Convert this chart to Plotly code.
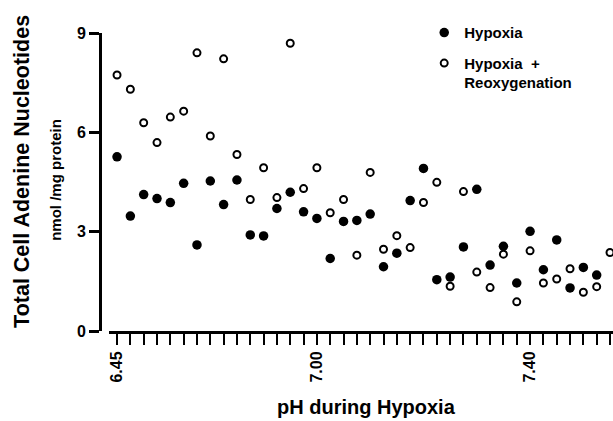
import plotly.graph_objects as go

# pH values (positions along the x axis, one per tick)
ph = [6.625, 6.650, 6.675, 6.700, 6.725, 6.750, 6.775, 6.800, 6.825, 6.850,
      6.875, 6.900, 6.925, 6.950, 6.975, 7.000, 7.025, 7.050, 7.075, 7.100,
      7.125, 7.150, 7.175, 7.200, 7.225, 7.250, 7.275, 7.300, 7.325, 7.350,
      7.375, 7.400, 7.425, 7.450, 7.475, 7.500, 7.525, 7.550]

hypoxia = [5.26, 3.47, 4.12, 4.00, 3.88, 4.46, 2.60, 4.53, 3.82, 4.56,
           2.90, 2.87, 3.70, 4.19, 3.60, 3.40, 2.19, 3.31, 3.34, 3.53,
           1.94, 2.35, 3.94, 4.91, 1.55, 1.63, 2.54, 4.28, 1.99, 2.56,
           1.45, 3.01, 1.85, 2.75, 1.30, 1.92, 1.69, None]

reoxygenation = [7.73, 7.30, 6.29, 5.69, 6.46, 6.64, 8.40, 5.89, 8.22, 5.33,
                 3.97, 4.93, 4.03, 8.69, 4.30, 4.93, 3.57, 3.97, 2.29, 4.79,
                 2.47, 2.88, 2.52, 3.88, 4.49, 1.35, 4.21, 1.78, 1.31, 2.32,
                 0.88, 2.42, 1.45, 1.57, 1.88, 1.17, 1.34, 2.37]

x_tick_vals = [6.625, 7.00, 7.40]
x_tick_text = ["6.45", "7.00", "7.40"]
y_tick_vals = [0, 3, 6, 9]
y_tick_text = ["0", "3", "6", "9"]

FONT = "Liberation Sans, Arial, sans-serif"

fig = go.Figure()
fig.add_trace(go.Scatter(
    x=ph, y=hypoxia, mode="markers", name="Hypoxia", legendgroup="a",
    marker=dict(size=9.5, color="black", line=dict(width=0)),
))
fig.add_trace(go.Scatter(
    x=ph, y=reoxygenation, mode="markers",
    name="Hypoxia  +<br>Reoxygenation", legendgroup="b",
    marker=dict(size=7, color="white", line=dict(width=2, color="black")),
))

fig.update_layout(
    width=613, height=421,
    margin=dict(l=100, r=0, t=33, b=90),
    paper_bgcolor="white", plot_bgcolor="white",
    font=dict(family=FONT, color="black", size=14, weight="bold"),
    showlegend=True,
    legend=dict(
        x=0.632, y=1.056, xanchor="left", yanchor="top",
        bgcolor="rgba(0,0,0,0)", borderwidth=0,
        font=dict(family=FONT, size=15, weight="bold", color="black"),
        valign="top", tracegroupgap=8, traceorder="grouped",
        itemwidth=30,
    ),
    xaxis=dict(
        domain=[0.017, 1], range=[6.6094, 7.5556],
        showgrid=False, zeroline=False,
        showline=True, linewidth=3, linecolor="black",
        ticks="outside", ticklen=11, tickwidth=2, tickcolor="black",
        tickmode="array", tickvals=x_tick_vals, ticktext=x_tick_text,
        tickangle=-90,
        tickfont=dict(family=FONT, size=16, weight="bold"),
        minor=dict(ticks="outside", dtick=0.025, tick0=6.625,
                   ticklen=11, tickwidth=2, tickcolor="black", showgrid=False),
    ),
    yaxis=dict(
        anchor="free", position=0, range=[0, 9],
        showgrid=False, zeroline=False,
        showline=True, linewidth=3, linecolor="black",
        ticks="outside", ticklen=10, tickwidth=3, tickcolor="black",
        tickmode="array", tickvals=y_tick_vals, ticktext=y_tick_text,
        tickfont=dict(family=FONT, size=16, weight="bold"),
    ),
    annotations=[
        dict(text="Total Cell Adenine Nucleotides", textangle=-90,
             xref="paper", yref="paper", x=-0.152, y=0.534,
             xanchor="center", yanchor="middle", showarrow=False,
             font=dict(family=FONT, size=21.5, weight="bold")),
        dict(text="nmol /mg protein", textangle=-90,
             xref="paper", yref="paper", x=-0.086, y=0.507,
             xanchor="center", yanchor="middle", showarrow=False,
             font=dict(family=FONT, size=15, weight="bold")),
        dict(text="pH during Hypoxia",
             xref="paper", yref="paper", x=0.52, y=-0.255,
             xanchor="center", yanchor="middle", showarrow=False,
             font=dict(family=FONT, size=20, weight="bold")),
    ],
)

fig.write_html("out.html")
